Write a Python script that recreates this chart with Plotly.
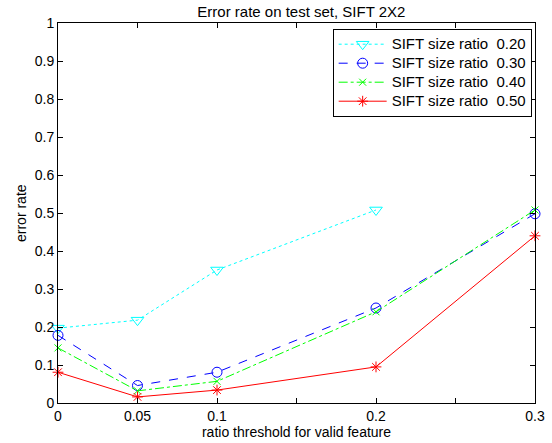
import plotly.graph_objects as go

x_thresh = [0.0, 0.05, 0.1, 0.2, 0.3]
series_names = ["SIFT size ratio  0.20", "SIFT size ratio  0.30",
                "SIFT size ratio  0.40", "SIFT size ratio  0.50"]
err_020 = [0.197, 0.218, 0.350, 0.508]
err_030 = [0.178, 0.046, 0.081, 0.250, 0.498]
err_040 = [0.145, 0.032, 0.057, 0.240, 0.508]
err_050 = [0.081, 0.016, 0.034, 0.095, 0.440]

x_tickvals = [0, 0.05, 0.1, 0.15, 0.2, 0.25, 0.3]
x_ticktext = ["0", "0.05", "0.1", "", "0.2", "", "0.3"]
y_tickvals = [0, 0.1, 0.2, 0.3, 0.4, 0.5, 0.6, 0.7, 0.8, 0.9, 1.0]
y_ticktext = ["0", "0.1", "0.2", "0.3", "0.4", "0.5", "0.6", "0.7", "0.8", "0.9", "1"]

styles = [
    dict(color="#00FFFF", dash="dot", symbol="triangle-down-open", size=11),
    dict(color="#0000FF", dash="dash", symbol="circle-open", size=10),
    dict(color="#00FF00", dash="dashdot", symbol="x-thin-open", size=7),
    dict(color="#FF0000", dash="solid", symbol="asterisk-open", size=9),
]
data = [err_020, err_030, err_040, err_050]

fig = go.Figure()
for name, ys, st in zip(series_names, data, styles):
    fig.add_trace(go.Scatter(
        x=x_thresh[:len(ys)], y=ys,
        name='<span style="font-size:15px">' + name + '</span>',
        mode="lines+markers",
        line=dict(color=st["color"], dash=st["dash"], width=1),
        marker=dict(symbol=st["symbol"], size=st["size"],
                    line=dict(color=st["color"], width=1), color=st["color"]),
        cliponaxis=False,
    ))

axis_common = dict(showgrid=False, zeroline=False, showline=True, linecolor="black",
                   linewidth=1, mirror="ticks", ticks="inside", ticklen=5,
                   tickcolor="black", automargin=False,
                   tickfont=dict(size=14, color="black"))

fig.update_layout(
    width=552, height=443,
    margin=dict(l=58, r=17, t=23, b=40),
    paper_bgcolor="white", plot_bgcolor="white",
    font=dict(family="Liberation Sans, Arial, sans-serif", size=14, color="black"),
    title=dict(text="Error rate on test set, SIFT 2X2", x=0.546, xanchor="center",
               y=0.973, yanchor="middle", font=dict(size=15)),
    xaxis=dict(range=[0, 0.3], tickvals=x_tickvals, ticktext=x_ticktext,
               title=dict(text="ratio threshold for valid feature", standoff=4,
                          font=dict(size=14)), **axis_common),
    yaxis=dict(range=[0, 1], tickvals=y_tickvals, ticktext=y_ticktext,
               **axis_common),
    legend=dict(x=0.993, xanchor="right", y=0.985, yanchor="top",
                bordercolor="black", borderwidth=1, bgcolor="white",
                font=dict(size=12), tracegroupgap=0, itemwidth=48),
    showlegend=True,
    annotations=[dict(text="error rate", xref="paper", yref="paper",
                      x=-37 / 477, y=0.5, xanchor="center", yanchor="middle",
                      textangle=-90, showarrow=False, font=dict(size=14))],
)

fig.write_html("out.html", post_script="document.body.style.margin='0';",
               config={"displayModeBar": False})
